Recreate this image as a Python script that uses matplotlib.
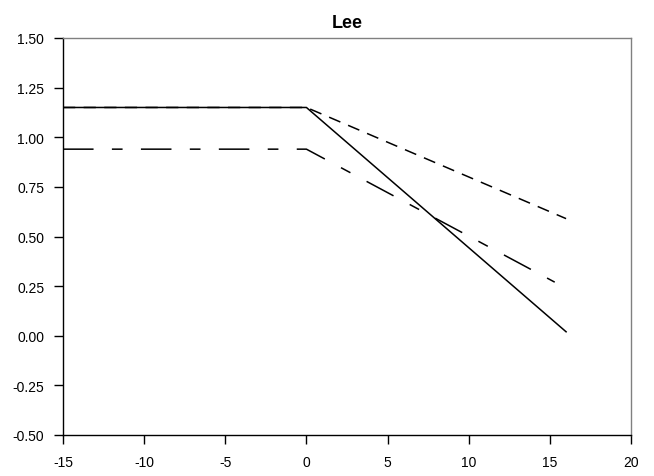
import matplotlib
matplotlib.use("Agg")
import matplotlib.pyplot as plt

# series
x_solid = [-15, 0, 16]
y_solid = [1.15, 1.15, 0.02]
x_short = [-15, 0, 16]
y_short = [1.15, 1.15, 0.59]
x_long = [-15, 0, 15.3]
y_long = [0.94, 0.94, 0.27]

x_ticks = [-15, -10, -5, 0, 5, 10, 15, 20]
y_ticks = [-0.5, -0.25, 0, 0.25, 0.5, 0.75, 1.0, 1.25, 1.5]

plt.rcParams['font.family'] = ['Liberation Sans', 'DejaVu Sans']

def main():
  fig = plt.figure(figsize=(6.54, 4.77), dpi=100)
  ax = fig.add_axes([63/654, 1 - 436/477, (631 - 63)/654, (436 - 39)/477])

  ax.plot(x_short, y_short, color="black", lw=1.1, dashes=(8, 5.5))
  ax.plot(x_long, y_long, color="black", lw=1.1, dashes=(20, 12, 7, 12))
  ax.plot(x_solid, y_solid, color="black", lw=1.1)

  ax.set_xlim(-15, 20)
  ax.set_ylim(-0.5, 1.5)
  ax.set_xticks(x_ticks)
  ax.set_xticklabels([str(v) for v in x_ticks])
  ax.set_yticks(y_ticks)
  ax.set_yticklabels(["%.2f" % v for v in y_ticks])
  ax.tick_params(direction="out", length=6.5, width=1, labelsize=10, colors="black")
  ax.tick_params(axis="x", pad=8)
  ax.tick_params(axis="y", pad=7)

  ax.spines["top"].set_color("#808080")
  ax.spines["right"].set_color("#808080")
  for s in ["left", "bottom"]:
    ax.spines[s].set_color("black")
  for s in ax.spines.values():
    s.set_linewidth(1)

  ax.set_title("Lee", fontsize=13, fontweight="bold", pad=8)

  fig.savefig("out.png", dpi=100)


if __name__ == "__main__":
  main()
